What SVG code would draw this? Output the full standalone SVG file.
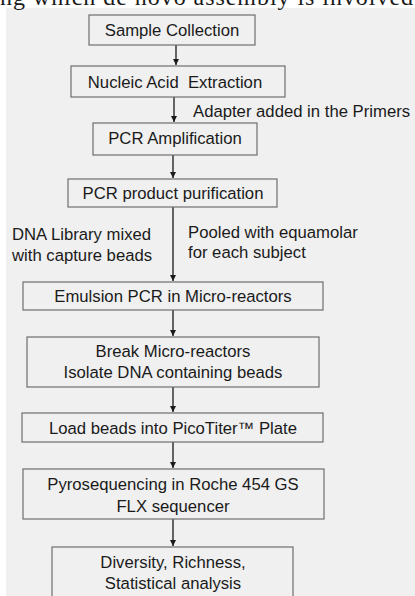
<svg xmlns="http://www.w3.org/2000/svg" width="415" height="596" viewBox="0 0 415 596">
<defs>
<style>
.bg{fill:#f0f0f0}
.box{fill:#f0f0f0;stroke:#6e6e6e;stroke-width:1.2}
.t{font-family:"Liberation Sans",Arial,sans-serif;font-size:16.7px;fill:#1a1a1a}
.c{text-anchor:middle}
.ln{stroke:#1a1a1a;stroke-width:1.3;fill:none;marker-end:url(#ah)}
</style>
<marker id="ah" viewBox="0 0 8 8" refX="8" refY="4" markerWidth="6" markerHeight="6" markerUnits="userSpaceOnUse" orient="auto">
<path d="M0,0 L8,4 L0,8 Z" fill="#1a1a1a"/>
</marker>
</defs>
<rect x="0" y="0" width="415" height="596" fill="#ffffff"/>
<rect class="bg" x="6" y="8" width="409" height="588"/>
<text x="0" y="5" font-family="Liberation Serif,'Times New Roman',serif" font-size="24" fill="#1a1a1a" textLength="413" lengthAdjust="spacing">ng which de novo assembly is involved</text>

<g id="connectors">
<line class="ln" x1="176" y1="45" x2="176" y2="65"/>
<line class="ln" x1="174" y1="97" x2="174" y2="122"/>
<line class="ln" x1="173" y1="155" x2="173" y2="178"/>
<line class="ln" x1="173" y1="207" x2="173" y2="281"/>
<line class="ln" x1="173" y1="310" x2="173" y2="336"/>
<line class="ln" x1="173" y1="387" x2="173" y2="412"/>
<line class="ln" x1="173" y1="442" x2="173" y2="468"/>
<line class="ln" x1="173" y1="519" x2="173" y2="546"/>
</g>

<g id="labels">
<text class="t" x="193" y="117">Adapter added in the Primers</text>
<text class="t" x="12" y="240">DNA Library mixed</text>
<text class="t" x="12" y="261">with capture beads</text>
<text class="t" x="188" y="238">Pooled with equamolar</text>
<text class="t" x="188" y="258">for each subject</text>
</g>

<g id="n1"><rect class="box" x="89" y="15" width="166" height="30"/><text class="t c" x="172" y="36">Sample Collection</text></g>
<g id="n2"><rect class="box" x="71" y="66" width="214" height="31"/><text class="t c" x="175" y="88" xml:space="preserve">Nucleic Acid  Extraction</text></g>
<g id="n3"><rect class="box" x="93" y="123" width="164" height="32"/><text class="t c" x="175" y="144">PCR Amplification</text></g>
<g id="n4"><rect class="box" x="68" y="179" width="209" height="28"/><text class="t c" x="173" y="199">PCR product purification</text></g>
<g id="n5"><rect class="box" x="23" y="282" width="300" height="28"/><text class="t c" x="173" y="302">Emulsion PCR in Micro-reactors</text></g>
<g id="n6"><rect class="box" x="27" y="337" width="292" height="50"/><text class="t c" x="173" y="357">Break Micro-reactors</text><text class="t c" x="173" y="378">Isolate DNA containing beads</text></g>
<g id="n7"><rect class="box" x="22" y="413" width="301" height="29"/><text class="t c" x="173" y="434">Load beads into PicoTiter™ Plate</text></g>
<g id="n8"><rect class="box" x="23" y="469" width="301" height="50"/><text class="t c" x="173" y="490">Pyrosequencing in Roche 454 GS</text><text class="t c" x="173" y="512">FLX sequencer</text></g>
<g id="n9"><rect class="box" x="52" y="547" width="241" height="60"/><text class="t c" x="173" y="568">Diversity, Richness,</text><text class="t c" x="173" y="589">Statistical analysis</text></g>
</svg>
